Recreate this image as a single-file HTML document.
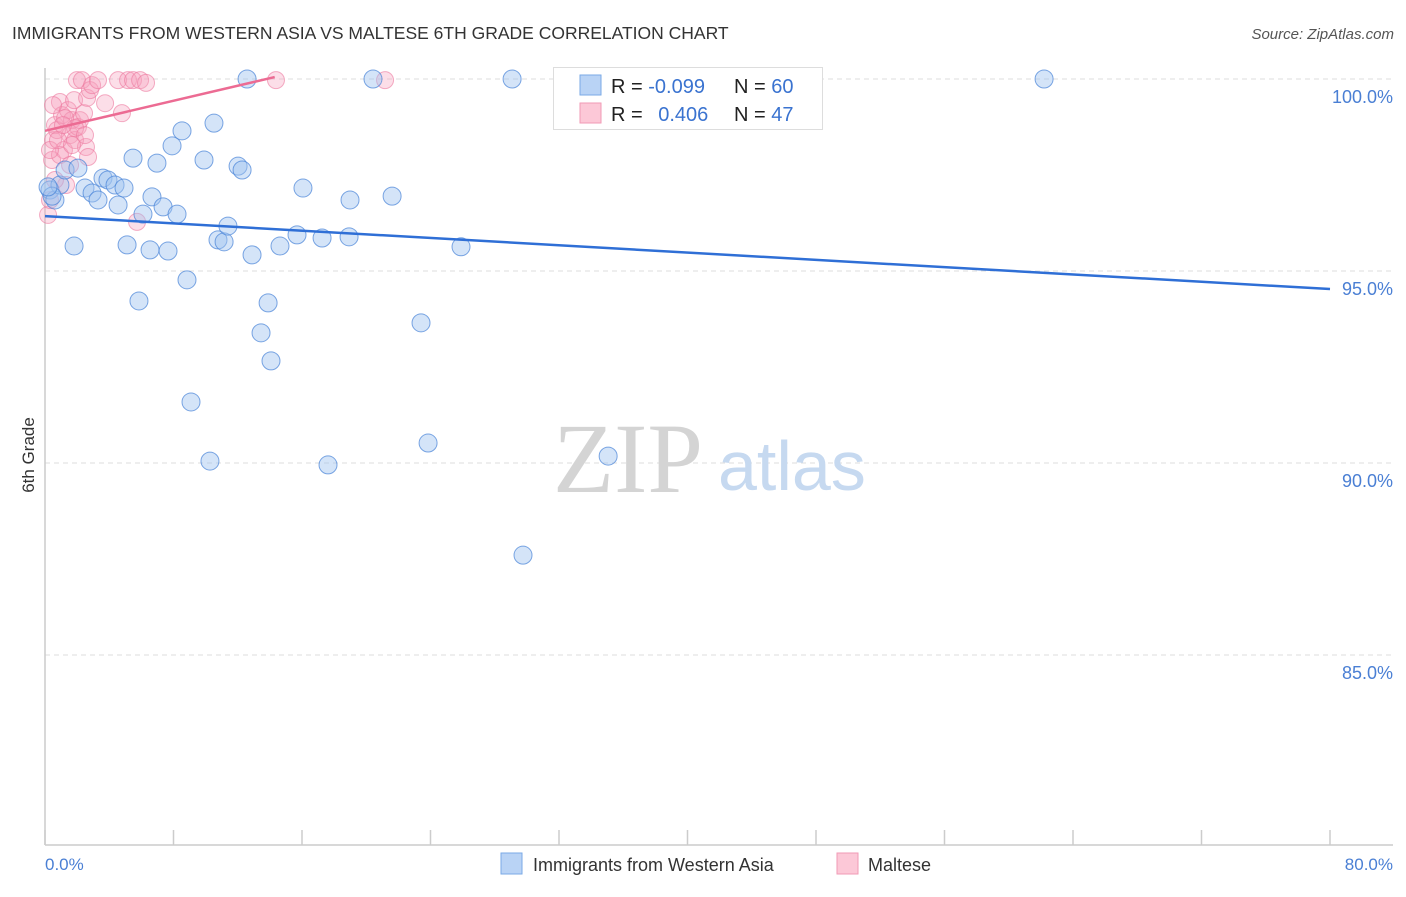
<!DOCTYPE html>
<html><head><meta charset="utf-8">
<style>
body{margin:0;background:#fff;font-family:"Liberation Sans",sans-serif;}
svg text{font-family:"Liberation Sans",sans-serif;}
</style></head>
<body>
<svg id="chart" width="1406" height="892" xmlns="http://www.w3.org/2000/svg">
<text x="12" y="39" font-size="17.5" fill="#333">IMMIGRANTS FROM WESTERN ASIA VS MALTESE 6TH GRADE CORRELATION CHART</text>
<text x="1394" y="39" font-size="15" fill="#555" font-style="italic" text-anchor="end">Source: ZipAtlas.com</text>
<g id="grid"></g>
<g id="yticks"></g>
<g id="xticks"></g>
<text x="553" y="492" font-size="100" fill="#d4d4d4" style="font-family:'Liberation Serif',serif">ZIP</text>
<text x="718" y="490" font-size="70" fill="#c6d9f0">atlas</text>
<line x1="45" y1="68" x2="45" y2="845" stroke="#ccc" stroke-width="1.5"/>
<line x1="45" y1="845" x2="1393" y2="845" stroke="#ccc" stroke-width="1.5"/>
<text transform="translate(34,455) rotate(-90)" font-size="17" fill="#333" text-anchor="middle">6th Grade</text>
<g id="pts"></g>
<g id="trends"></g>
<text x="45" y="870" font-size="17" fill="#4a7fd4">0.0%</text>
<text x="1393" y="870" font-size="17" fill="#4a7fd4" text-anchor="end">80.0%</text>
<g>
<rect x="553.5" y="67.5" width="269" height="62" fill="#fff" stroke="#ddd"/>
<rect x="580" y="75" width="21" height="20" fill="#b9d3f5" stroke="#7aaae6"/>
<rect x="580" y="103" width="21" height="20" fill="#fcc8d7" stroke="#f19ab5"/>
<text x="611" y="93" font-size="20" fill="#222">R = <tspan fill="#3a73d0">-0.099</tspan></text>
<text x="734" y="93" font-size="20" fill="#222">N = <tspan fill="#3a73d0">60</tspan></text>
<text x="611" y="121" font-size="20" fill="#222">R = <tspan fill="#3a73d0" dx="10">0.406</tspan></text>
<text x="734" y="121" font-size="20" fill="#222">N = <tspan fill="#3a73d0">47</tspan></text>
</g>
<g>
<rect x="501" y="853" width="21" height="21" fill="#b9d3f5" stroke="#7aaae6"/>
<text x="533" y="871" font-size="18" fill="#333">Immigrants from Western Asia</text>
<rect x="837" y="853" width="21" height="21" fill="#fcc8d7" stroke="#f19ab5"/>
<text x="868" y="871" font-size="18" fill="#333">Maltese</text>
</g>
</svg>
<script>
const yTicks=[100,95,90,85];
const yTickLabels=["100.0%","95.0%","90.0%","85.0%"];
const xTickVals=[0,8,16,24,32,40,48,56,64,72,80];
const blueX=[0.31,0.62,0.93,1.25,1.81,2.05,2.49,2.93,3.30,3.61,3.92,4.36,4.55,4.92,5.11,5.48,5.85,6.10,6.54,6.66,6.97,7.35,7.66,7.91,8.22,8.53,8.84,9.09,9.90,10.27,10.52,10.77,11.15,11.39,12.02,12.27,12.58,12.89,13.45,13.89,14.07,14.63,15.69,16.06,17.25,17.62,18.93,18.99,20.42,21.61,23.41,23.85,25.90,29.08,29.76,35.06,42.34,62.20,0.44,0.19];
const blueY=[97.11,96.85,97.24,97.63,95.65,97.68,97.16,97.03,96.85,97.42,97.37,97.24,96.72,97.16,95.68,97.94,94.22,96.48,95.55,96.93,97.81,96.67,95.52,98.26,96.48,98.65,94.77,91.59,97.89,90.05,98.85,95.81,95.76,96.17,97.73,97.63,100,95.42,93.39,94.17,92.66,95.65,95.94,97.16,95.86,89.95,95.89,96.85,100,96.95,93.65,90.52,95.63,100,87.60,90.18,100,100,96.95,97.19];
const pinkX=[0.19,0.31,0.44,0.50,0.62,0.75,0.93,1.06,1.18,1.31,1.43,1.56,1.68,1.81,1.87,1.99,2.05,2.18,2.30,2.43,2.55,2.62,2.68,2.80,2.93,3.30,3.74,4.55,4.79,5.17,5.48,5.73,5.92,6.29,14.38,21.17,0.62,0.93,1.25,1.56,1.87,0.31,0.50,0.81,1.12,2.49,1.68];
const pinkY=[96.46,96.85,97.89,98.41,98.80,98.67,99.40,99.06,98.15,97.24,99.19,98.54,98.93,99.45,98.41,99.97,98.75,98.93,99.97,99.11,98.23,99.51,97.97,99.71,99.84,99.97,99.37,99.97,99.11,99.97,99.97,96.28,99.97,99.90,99.97,99.97,97.37,98.02,98.98,97.76,98.72,98.15,99.32,98.41,98.80,98.54,98.28];
const blueTrend=[0,96.43,80,94.53];
const pinkTrend=[0,98.65,14.3,100.05];
const NS="http://www.w3.org/2000/svg";
const xs=v=>45+v/80*1285;
const ys=v=>79+(100-v)*38.4;
function mk(tag,attrs,parent){const e=document.createElementNS(NS,tag);for(const k in attrs)e.setAttribute(k,attrs[k]);parent.appendChild(e);return e;}
const grid=document.getElementById('grid'),yt=document.getElementById('yticks'),xt=document.getElementById('xticks');
yTicks.forEach((t,i)=>{
 const l=mk('line',{x1:45,x2:1393,y1:ys(t),y2:ys(t),stroke:'#ddd','stroke-dasharray':'5,4'},grid);
 
 
 const tx=mk('text',{x:1393,y:ys(t)+24,'font-size':18,fill:'#4a7fd4','text-anchor':'end'},yt);
 tx.textContent=yTickLabels[i];
 
 
});
xTickVals.forEach(v=>{
 const l=mk('line',{x1:xs(v),x2:xs(v),y1:830,y2:845,stroke:'#ccc','stroke-width':1.5},xt);
 
 
});
const pts=document.getElementById('pts');
pinkX.forEach((x,i)=>{
 const c=mk('circle',{cx:xs(x),cy:ys(pinkY[i]),r:8.5,fill:'rgba(247,160,188,0.35)',stroke:'rgba(236,120,158,0.6)','stroke-width':1},pts);
 
 
});
blueX.forEach((x,i)=>{
 const c=mk('circle',{cx:xs(x),cy:ys(blueY[i]),r:9,fill:'rgba(160,195,240,0.45)',stroke:'rgba(70,130,215,0.7)','stroke-width':1},pts);
 
 
});
const tr=document.getElementById('trends');
const bl=mk('line',{x1:xs(blueTrend[0]),y1:ys(blueTrend[1]),x2:xs(blueTrend[2]),y2:ys(blueTrend[3]),stroke:'#2f6fd6','stroke-width':2.5},tr);


const pl=mk('line',{x1:xs(pinkTrend[0]),y1:ys(pinkTrend[1]),x2:xs(pinkTrend[2]),y2:ys(pinkTrend[3]),stroke:'#ec6b93','stroke-width':2.5},tr);


</script>
</body></html>
